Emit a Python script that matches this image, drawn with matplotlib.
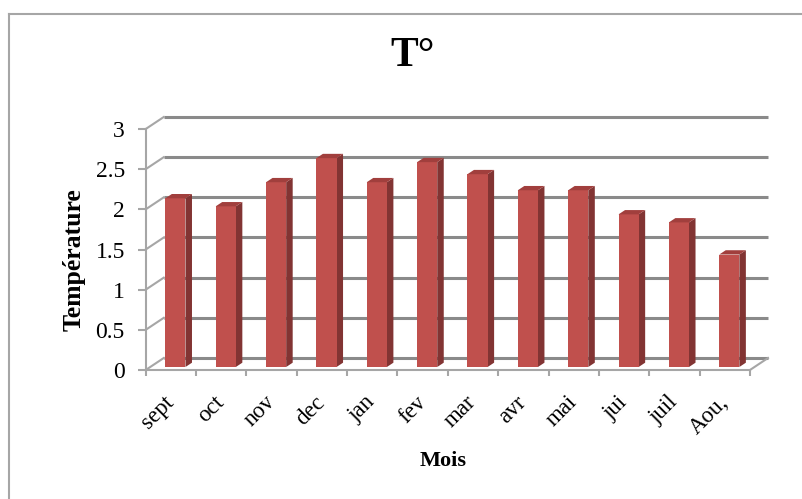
import matplotlib
matplotlib.use("Agg")
import matplotlib.pyplot as plt
from matplotlib.patches import Polygon
from matplotlib.lines import Line2D
import numpy as np

# ---- data ----
months = ["sept", "oct", "nov", "dec", "jan", "fev", "mar", "avr", "mai", "jui", "juil", "Aou,"]
temps = [2.1, 2.0, 2.3, 2.6, 2.3, 2.55, 2.4, 2.2, 2.2, 1.9, 1.8, 1.4]
yticks = [0, 0.5, 1, 1.5, 2, 2.5, 3]
ytick_labels = ["0", "0.5", "1", "1.5", "2", "2.5", "3"]
title = "T°"
xlabel = "Mois"
ylabel = "Température"

# ---- style ----
SERIF = "Liberation Serif"
FRONT = "#c0504d"
SIDE = "#823433"
TOP = "#a13f3d"
GRID = "#8a8a8a"
AXIS = "#a6a6a6"

W, H = 803, 499
fig = plt.figure(figsize=(W / 100, H / 100), dpi=100)
fig.patch.set_facecolor("white")

# pixel layout of the 3D box
px_left, px_right, px_bottom, px_top = 145.7, 768, 370, 117
ax = fig.add_axes([px_left / W, (H - px_bottom) / H,
                   (px_right - px_left) / W, (px_bottom - px_top) / H])

n = len(months)
xpx = 50.2   # px per category
ypx = 80.3   # px per unit
wall_dx, wall_dy = 18 / xpx, 12 / ypx
bar_dx, bar_dy = 4.5 / xpx, 3 / ypx
dep_dx, dep_dy = 6.5 / xpx, 4.3 / ypx
bw = 0.4

ax.set_xlim(-0.5, n - 0.5 + wall_dx)
ax.set_ylim(0, 3 + wall_dy)
ax.set_facecolor("none")

# back wall gridlines + left wall diagonals
for v in yticks:
    ax.plot([-0.5 + wall_dx, n - 0.5 + wall_dx], [v + wall_dy, v + wall_dy],
            color=GRID, lw=2.2, zorder=1, clip_on=False, solid_capstyle="butt")
    ax.plot([-0.5, -0.5 + wall_dx], [v, v + wall_dy],
            color=AXIS, lw=1.5, zorder=1, clip_on=False)
# floor right edge
ax.plot([n - 0.5, n - 0.5 + wall_dx], [0, wall_dy], color=AXIS, lw=1.5,
        zorder=1, clip_on=False)

# bars
x = np.arange(n)
xf = x + bar_dx
ax.bar(xf, temps, width=bw, bottom=bar_dy, color=FRONT, zorder=3,
       edgecolor="none", clip_on=False)
for xi, v in zip(xf, temps):
    side = [(xi + bw / 2, bar_dy), (xi + bw / 2 + dep_dx, bar_dy + dep_dy),
            (xi + bw / 2 + dep_dx, v + bar_dy + dep_dy), (xi + bw / 2, v + bar_dy)]
    top = [(xi - bw / 2, v + bar_dy), (xi + bw / 2, v + bar_dy),
           (xi + bw / 2 + dep_dx, v + bar_dy + dep_dy),
           (xi - bw / 2 + dep_dx, v + bar_dy + dep_dy)]
    ax.add_patch(Polygon(side, closed=True, facecolor=SIDE, edgecolor="none",
                         zorder=2.9, clip_on=False))
    ax.add_patch(Polygon(top, closed=True, facecolor=TOP, edgecolor="none",
                         zorder=3.1, clip_on=False))

# spines
for s in ["top", "right"]:
    ax.spines[s].set_visible(False)
ax.spines["left"].set_bounds(0, 3)
ax.spines["bottom"].set_bounds(-0.5, n - 0.5)
for s in ["left", "bottom"]:
    ax.spines[s].set_color(AXIS)
    ax.spines[s].set_linewidth(1.5)
    ax.spines[s].set_zorder(4)

# y ticks
ax.set_yticks(yticks)
ax.set_yticklabels(ytick_labels, fontfamily=SERIF, fontsize=17)
ax.tick_params(axis="y", direction="out", length=6, width=1.5, color=AXIS, pad=9)

# x ticks: boundaries (major, no label), centers (minor, labels)
ax.set_xticks(np.arange(-0.5, n, 1.0))
ax.set_xticklabels([])
ax.tick_params(axis="x", which="major", direction="out", length=4, width=1.5, color=AXIS)
ax.set_xticks(x, minor=True)
ax.set_xticklabels(months, minor=True, fontfamily=SERIF, fontsize=16.5)
ax.tick_params(axis="x", which="minor", length=0, pad=21)
for lab in ax.get_xticklabels(minor=True):
    lab.set_rotation(45)
    lab.set_ha("right")
    lab.set_va("center")
    lab.set_rotation_mode("anchor")

# titles
fig.text(413 / W, 1 - 56 / H, title, fontfamily=SERIF, fontsize=30,
         fontweight="bold", ha="center", va="center")
fig.text(443 / W, 1 - 461 / H, xlabel, fontfamily=SERIF, fontsize=16,
         fontweight="bold", ha="center", va="center")
fig.text(74 / W, 1 - 260 / H, ylabel, fontfamily=SERIF, fontsize=18.5,
         fontweight="bold", ha="center", va="center", rotation=90)

# outer border (top and left visible)
fig.add_artist(Line2D([8.5 / W, 1], [1 - 13.5 / H, 1 - 13.5 / H],
                      transform=fig.transFigure, color=AXIS, lw=1.5))
fig.add_artist(Line2D([8.5 / W, 8.5 / W], [0, 1 - 13.5 / H],
                      transform=fig.transFigure, color=AXIS, lw=1.5))

fig.savefig("out.png", dpi=100)
